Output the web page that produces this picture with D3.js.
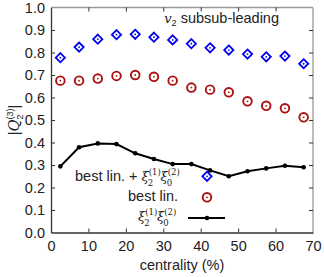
<!DOCTYPE html>
<html><head><meta charset="utf-8">
<script src="https://cdn.jsdelivr.net/npm/d3@7"></script>
<style>
html,body{margin:0;padding:0;background:#fff;}
text{font-family:"Liberation Sans",Arial,sans-serif;}
</style></head>
<body><svg id="c" width="324" height="277"></svg>
<script>
const centrality = [2.5,7.5,12.5,17.5,22.5,27.5,32.5,37.5,42.5,47.5,52.5,57.5,62.5,67.5];
const bestLinPlus = [0.777,0.824,0.859,0.879,0.881,0.868,0.856,0.839,0.821,0.811,0.793,0.781,0.784,0.750];
const bestLin = [0.675,0.675,0.684,0.696,0.700,0.692,0.675,0.644,0.635,0.623,0.583,0.563,0.552,0.512];
const xiXi = [0.294,0.379,0.396,0.393,0.352,0.327,0.304,0.304,0.276,0.250,0.272,0.285,0.297,0.290];
const xTicks = [0,10,20,30,40,50,60,70];
const yTicks = [0,0.1,0.2,0.3,0.4,0.5,0.6,0.7,0.8,0.9,1.0];

const svg = d3.select("#c");
const L=51,R=313,T=7.5,B=232.5;
const x = d3.scaleLinear().domain([0,70]).range([L,R]);
const y = d3.scaleLinear().domain([0,1]).range([B,T]);
const fs = 14.5;

// frame top/right
svg.append("line").attr("x1",L).attr("x2",R).attr("y1",T).attr("y2",T).attr("stroke","#999").attr("stroke-width",1.3);
svg.append("line").attr("x1",R).attr("x2",R).attr("y1",T).attr("y2",B).attr("stroke","#999").attr("stroke-width",1.3);

const gx = svg.append("g").attr("transform",`translate(0,${B})`)
  .call(d3.axisBottom(x).tickValues(xTicks).tickSizeInner(-4).tickSizeOuter(0).tickPadding(8).tickFormat(d3.format("d")));
const gy = svg.append("g").attr("transform",`translate(${L},0)`)
  .call(d3.axisLeft(y).tickValues(yTicks).tickSizeInner(-4).tickSizeOuter(0).tickPadding(6).tickFormat(d3.format(".1f")));
const gxt = svg.append("g").attr("transform",`translate(0,${T})`)
  .call(d3.axisTop(x).tickValues(xTicks.slice(1,-1)).tickSizeInner(-4).tickSizeOuter(0).tickFormat(""));
const gyr = svg.append("g").attr("transform",`translate(${R},0)`)
  .call(d3.axisRight(y).tickValues(yTicks.slice(1,-1)).tickSizeInner(-4).tickSizeOuter(0).tickFormat(""));
[gx,gy].forEach(g=>{
  g.select(".domain").attr("stroke","#333").attr("stroke-width",1.3);
  g.selectAll(".tick line").attr("stroke","#333");
  g.selectAll(".tick text").attr("font-size",fs).attr("fill","#222").attr("font-family","Liberation Sans, Arial, sans-serif");
});
[gxt,gyr].forEach(g=>{
  g.select(".domain").remove();
  g.selectAll(".tick line").attr("stroke","#333");
});
gy.selectAll(".tick").filter(d=>d===0||d===1).select("line").remove();
gx.selectAll(".tick").filter(d=>d===0||d===70).select("line").remove();

// axis labels
svg.append("text").attr("x",(L+R)/2).attr("y",270).attr("text-anchor","middle")
  .attr("font-size",fs).attr("fill","#222").text("centrality (%)");
const yl = svg.append("text").attr("transform",`translate(19,${(T+B)/2}) rotate(-90)`)
  .attr("text-anchor","middle").attr("font-size",fs).attr("fill","#222");
yl.append("tspan").text("|");
yl.append("tspan").attr("font-style","italic").attr("font-family","DejaVu Serif, serif").text("Q");
yl.append("tspan").attr("font-size",9).attr("dy",4).text("2");
yl.append("tspan").attr("font-size",9).attr("dx",-5).attr("dy",-10).text("(3)");
yl.append("tspan").attr("dy",6).text("|");

// series
const blue="#0000ee", red="#aa1111";
function diamond(g,cx,cy){
  const s=4.6;
  g.append("path").attr("d",`M${cx},${cy-s}L${cx+s},${cy}L${cx},${cy+s}L${cx-s},${cy}Z`)
    .attr("fill","none").attr("stroke",blue).attr("stroke-width",1.8);
  g.append("circle").attr("cx",cx).attr("cy",cy).attr("r",0.9).attr("fill",blue);
}
function ring(g,cx,cy){
  g.append("circle").attr("cx",cx).attr("cy",cy).attr("r",4.3)
    .attr("fill","none").attr("stroke",red).attr("stroke-width",1.9);
  g.append("circle").attr("cx",cx).attr("cy",cy).attr("r",0.9).attr("fill",red);
}
const gs = svg.append("g");
centrality.forEach((c,i)=>diamond(gs,x(c),y(bestLinPlus[i])));
centrality.forEach((c,i)=>ring(gs,x(c),y(bestLin[i])));
const line = d3.line().x((d,i)=>x(centrality[i])).y(d=>y(d));
gs.append("path").attr("d",line(xiXi)).attr("fill","none").attr("stroke","#000").attr("stroke-width",2);
centrality.forEach((c,i)=>gs.append("circle").attr("cx",x(c)).attr("cy",y(xiXi[i])).attr("r",2.3).attr("fill","#000"));

// title
const tt = svg.append("text").attr("x",279).attr("y",23).attr("text-anchor","end").attr("font-size",fs).attr("fill","#222");
tt.append("tspan").attr("font-style","italic").attr("font-family","DejaVu Serif, serif").attr("font-size",13).text("v");
tt.append("tspan").attr("font-size",9).attr("dy",3).text("2");
tt.append("tspan").attr("dy",-3).text(" subsub-leading");

// legend
function xiText(t){
  t.append("tspan").attr("font-style","italic").attr("font-family","DejaVu Serif, serif").attr("font-size",13).text("ξ");
  t.append("tspan").attr("font-size",8.5).attr("dy",-6).attr("font-family","DejaVu Serif, serif").text("(1)");
  t.append("tspan").attr("font-size",8.5).attr("dx",-13).attr("dy",11).attr("font-family","DejaVu Serif, serif").text("2");
  t.append("tspan").attr("font-size",8.5).attr("dx",7).attr("dy",-5).text(" ");
  t.append("tspan").attr("font-style","italic").attr("font-family","DejaVu Serif, serif").attr("font-size",13).attr("dx",-2).text("ξ");
  t.append("tspan").attr("font-size",8.5).attr("dy",-6).attr("font-family","DejaVu Serif, serif").text("(2)");
  t.append("tspan").attr("font-size",8.5).attr("dx",-13).attr("dy",11).attr("font-family","DejaVu Serif, serif").text("0");
}
const lt1 = svg.append("text").attr("x",75).attr("y",181).attr("font-size",fs).attr("fill","#222");
lt1.append("tspan").text("best lin. + ");
xiText(lt1);
svg.append("text").attr("x",178).attr("y",201).attr("text-anchor","end").attr("font-size",fs).attr("fill","#222").text("best lin.");
const lt3 = svg.append("text").attr("x",138).attr("y",221).attr("font-size",fs).attr("fill","#222");
xiText(lt3);
diamond(svg,207,176.3);
ring(svg,207,197.3);
svg.append("line").attr("x1",188).attr("x2",225).attr("y1",218).attr("y2",218).attr("stroke","#000").attr("stroke-width",2);
svg.append("circle").attr("cx",207).attr("cy",218).attr("r",2.3).attr("fill","#000");
</script></body></html>
